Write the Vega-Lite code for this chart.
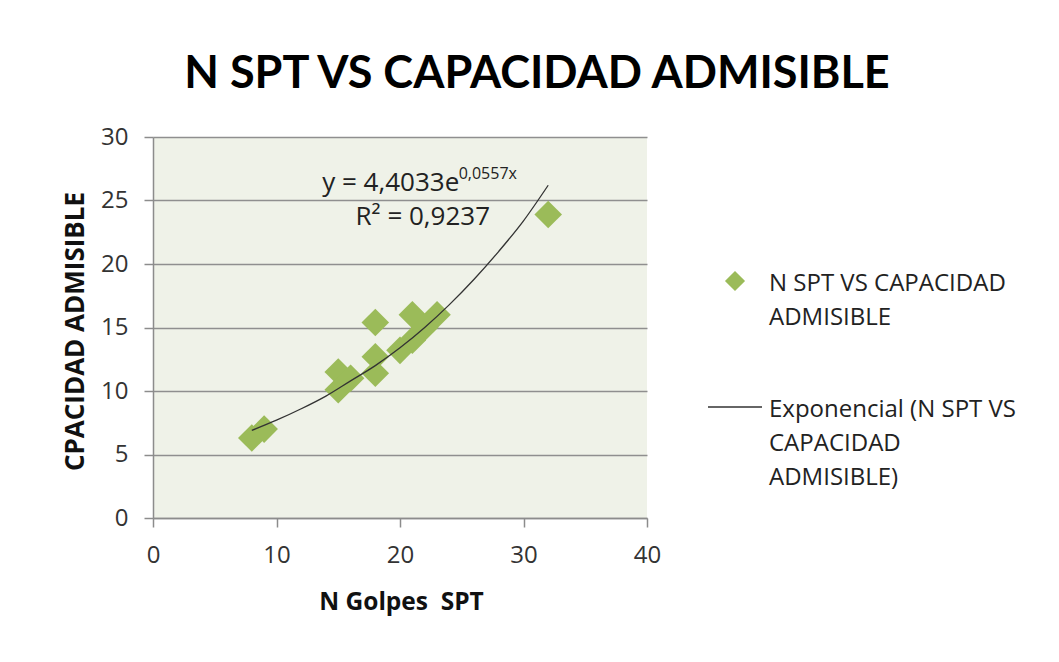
{
  "$schema": "https://vega.github.io/schema/vega-lite/v6.json",
  "width": 494,
  "height": 381,
  "autosize": {"type": "none"},
  "padding": {"left": 153, "top": 137, "right": 412, "bottom": 144},
  "background": "white",
  "title": {
    "text": "N SPT VS CAPACIDAD ADMISIBLE",
    "font": "Lato",
    "fontSize": 45,
    "fontWeight": "bold",
    "color": "black",
    "anchor": "middle",
    "frame": "group",
    "dx": 137,
    "offset": 28
  },
  "config": {
    "view": {"fill": "#EFF2E8", "stroke": null},
    "axis": {
      "labelFont": "Open Sans",
      "labelFontSize": 24,
      "labelColor": "#333333",
      "labelFlush": false,
      "titleFont": "Open Sans",
      "titleFontWeight": "bold",
      "titleColor": "#111111",
      "domainColor": "#8c8c8c",
      "domainWidth": 1.5,
      "tickColor": "#8c8c8c",
      "tickWidth": 1.5,
      "tickSize": 9
    },
    "legend": {
      "labelFont": "Open Sans",
      "labelFontSize": 24,
      "labelColor": "#222222"
    }
  },
  "data": {
    "values": [
      {"nspt": 8, "capacidad": 6.3},
      {"nspt": 9, "capacidad": 7.0},
      {"nspt": 15, "capacidad": 11.5},
      {"nspt": 15, "capacidad": 10.1},
      {"nspt": 16, "capacidad": 11.0},
      {"nspt": 18, "capacidad": 15.4},
      {"nspt": 18, "capacidad": 12.7},
      {"nspt": 18, "capacidad": 11.4},
      {"nspt": 20, "capacidad": 13.2},
      {"nspt": 21, "capacidad": 14.0},
      {"nspt": 21, "capacidad": 16.0},
      {"nspt": 22, "capacidad": 15.0},
      {"nspt": 23, "capacidad": 16.0},
      {"nspt": 32, "capacidad": 23.9}
    ]
  },
  "layer": [
    {
      "mark": {"type": "point", "filled": true, "opacity": 1, "size": 760},
      "encoding": {
        "x": {
          "field": "nspt",
          "type": "quantitative",
          "scale": {"domain": [0, 40], "nice": false},
          "axis": {
            "values": [0, 10, 20, 30, 40],
            "grid": false,
            "labelPadding": 16,
            "title": "N Golpes\u00a0 SPT",
            "titleFontSize": 24.5,
            "titleX": 248,
            "titleY": 84,
            "titleBaseline": "middle",
            "titleAlign": "center",
            "titleAnchor": null
          }
        },
        "y": {
          "field": "capacidad",
          "type": "quantitative",
          "scale": {"domain": [0, 30], "nice": false},
          "axis": {
            "values": [0, 5, 10, 15, 20, 25, 30],
            "grid": true,
            "gridColor": "#8f8f8f",
            "gridWidth": 1.5,
            "labelPadding": 16,
            "title": "CPACIDAD ADMISIBLE",
            "titleFontSize": 26,
            "titleX": -78,
            "titleY": 194,
            "titleAngle": -90,
            "titleBaseline": "middle",
            "titleAlign": "center"
          }
        },
        "color": {
          "datum": "N SPT VS CAPACIDAD ADMISIBLE",
          "scale": {
            "domain": ["N SPT VS CAPACIDAD ADMISIBLE", "Exponencial (N SPT VS CAPACIDAD ADMISIBLE)"],
            "range": ["#9BBB59", "#333333"]
          },
          "legend": {
            "orient": "none",
            "legendX": 554,
            "legendY": 116,
            "title": null,
            "symbolSize": 324,
            "symbolStrokeWidth": 1.5,
            "rowPadding": 49,
            "labelOffset": 6,
            "labelLimit": 400,
            "labelExpr": "datum.label == 'N SPT VS CAPACIDAD ADMISIBLE' ? ['N SPT VS CAPACIDAD', 'ADMISIBLE'] : ['Exponencial (N SPT VS', 'CAPACIDAD', 'ADMISIBLE)']",
            "labelBaseline": "top",
            "encoding": {
              "labels": {"lineHeight": {"value": 34}, "dy": {"value": -9}},
              "symbols": {"size": {"value": {"expr": "datum.value === 'N SPT VS CAPACIDAD ADMISIBLE' ? 324 : 2916"}}}
            }
          }
        },
        "shape": {
          "datum": "N SPT VS CAPACIDAD ADMISIBLE",
          "scale": {
            "domain": ["N SPT VS CAPACIDAD ADMISIBLE", "Exponencial (N SPT VS CAPACIDAD ADMISIBLE)"],
            "range": ["diamond", "stroke"]
          },
          "legend": null
        }
      }
    },
    {
      "data": {
        "values": [
          {"nspt": 8, "capacidad": 6.9},
          {"nspt": 10, "capacidad": 7.7},
          {"nspt": 12, "capacidad": 8.6},
          {"nspt": 14, "capacidad": 9.6},
          {"nspt": 16, "capacidad": 10.8},
          {"nspt": 18, "capacidad": 12.0},
          {"nspt": 20, "capacidad": 13.4},
          {"nspt": 22, "capacidad": 15.0},
          {"nspt": 24, "capacidad": 16.8},
          {"nspt": 26, "capacidad": 18.8},
          {"nspt": 28, "capacidad": 21.0},
          {"nspt": 30, "capacidad": 23.4},
          {"nspt": 32, "capacidad": 26.2}
        ]
      },
      "mark": {"type": "line", "strokeWidth": 1.3, "interpolate": "monotone"},
      "encoding": {
        "x": {"field": "nspt", "type": "quantitative"},
        "y": {"field": "capacidad", "type": "quantitative"},
        "color": {
          "datum": "Exponencial (N SPT VS CAPACIDAD ADMISIBLE)",
          "legend": {
            "orient": "none",
            "legendX": 554,
            "legendY": 116,
            "title": null,
            "symbolSize": 324,
            "symbolStrokeWidth": 1.5,
            "rowPadding": 49,
            "labelOffset": 6,
            "labelLimit": 400,
            "labelExpr": "datum.label == 'N SPT VS CAPACIDAD ADMISIBLE' ? ['N SPT VS CAPACIDAD', 'ADMISIBLE'] : ['Exponencial (N SPT VS', 'CAPACIDAD', 'ADMISIBLE)']",
            "labelBaseline": "top",
            "encoding": {
              "labels": {"lineHeight": {"value": 34}, "dy": {"value": -9}},
              "symbols": {"size": {"value": {"expr": "datum.value === 'N SPT VS CAPACIDAD ADMISIBLE' ? 324 : 2916"}}}
            }
          }
        }
      }
    },
    {
      "data": {
        "values": [
          {"nspt": 13.7, "capacidad": 26.4, "label": "y = 4,4033e"},
          {"nspt": 16.4, "capacidad": 23.7, "label": "R² = 0,9237"}
        ]
      },
      "mark": {"type": "text", "align": "left", "baseline": "middle", "font": "Open Sans", "fontSize": 26, "color": "#222222"},
      "encoding": {
        "x": {"field": "nspt", "type": "quantitative"},
        "y": {"field": "capacidad", "type": "quantitative"},
        "text": {"field": "label"}
      }
    },
    {
      "data": {
        "values": [
          {"nspt": 24.75, "capacidad": 27.1, "label": "0,0557x"}
        ]
      },
      "mark": {"type": "text", "align": "left", "baseline": "middle", "font": "Open Sans", "fontSize": 16, "color": "#222222"},
      "encoding": {
        "x": {"field": "nspt", "type": "quantitative"},
        "y": {"field": "capacidad", "type": "quantitative"},
        "text": {"field": "label"}
      }
    }
  ]
}
